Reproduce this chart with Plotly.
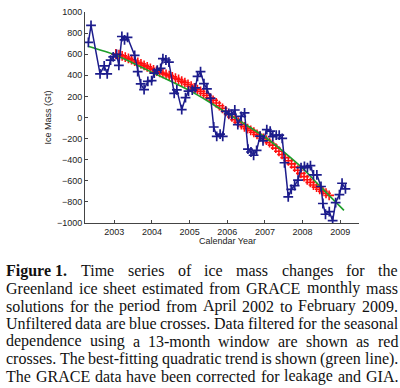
import plotly.graph_objects as go

# ---------------- data ----------------
blue_year = [2002.31, 2002.38, 2002.62, 2002.73, 2002.81, 2002.90, 2002.97, 2003.06, 2003.12,
             2003.20, 2003.27, 2003.35, 2003.54, 2003.62, 2003.70, 2003.79, 2003.89, 2003.99,
             2004.06, 2004.14, 2004.23, 2004.29, 2004.37, 2004.45, 2004.59, 2004.66, 2004.79,
             2004.89, 2004.97, 2005.07, 2005.15, 2005.21, 2005.29, 2005.38, 2005.46, 2005.56,
             2005.64, 2005.72, 2005.81, 2005.88, 2005.96, 2006.04, 2006.12, 2006.20, 2006.28,
             2006.37, 2006.46, 2006.55, 2006.63, 2006.70, 2006.78, 2006.87, 2006.95, 2007.05,
             2007.14, 2007.21, 2007.30, 2007.38, 2007.46, 2007.52, 2007.62, 2007.70, 2007.79,
             2007.88, 2007.96, 2008.05, 2008.13, 2008.21, 2008.29, 2008.38, 2008.49, 2008.54,
             2008.61, 2008.71, 2008.80, 2008.88, 2008.98, 2009.05, 2009.14]
blue_mass = [713, 873, 414, 490, 414, 543, 574, 599, 494,
             768, 735, 759, 589, 435, 318, 265, 343, 349,
             420, 450, 466, 559, 545, 525, 228, 262, 74,
             188, 250, 259, 281, 389, 435, 321, 272, 182,
             -90, -179, -157, -179, 59, 38, 30, 71, -68,
             10, 43, -300, -327, -358, -312, -176, -222, -114,
             -130, -182, -167, -167, -198, -429, -753, -682, -645,
             -593, -475, -463, -475, -457, -543, -543, -654, -815,
             -917, -892, -978, -806, -731, -623, -676]

# 13-month filtered series, monthly from Jan 2003 to Sep 2008
red_start = 2003.04
red_mass = [602, 595, 585, 573, 560, 548, 535, 522, 508, 494, 480, 466,
            452, 440, 428, 418, 408, 397, 385, 372, 360, 345, 330, 313,
            296, 280, 265, 248, 228, 208, 186, 162, 138, 112, 87, 62,
            30, 5, -20, -45, -68, -88, -105, -122, -140, -160, -180, -198,
            -215, -238, -262, -290, -320, -350, -380, -410, -440, -470, -500, -530,
            -560, -590, -615, -640, -660, -680, -700, -718, -738]
red_year = [red_start + i / 12 for i in range(len(red_mass))]

green_year = [2002.3, 2003.0, 2003.5, 2004.0, 2004.5, 2005.0, 2005.5, 2006.0,
              2006.5, 2007.0, 2007.5, 2008.0, 2008.5, 2009.1]
green_mass = [676, 597, 515, 428, 344, 255, 152, 40, -70, -185, -325, -480, -665, -880]

x_ticks = [2003, 2004, 2005, 2006, 2007, 2008, 2009]
y_ticks = [1000, 800, 600, 400, 200, 0, -200, -400, -600, -800, -1000]

caption_lines = [
    "Figure 1. Time series of ice mass changes for the",
    "Greenland ice sheet estimated from GRACE monthly mass",
    "solutions for the period from April 2002 to February 2009.",
    "Unfiltered data are blue crosses. Data filtered for the seasonal",
    "dependence using a 13-month window are shown as red",
    "crosses. The best-fitting quadratic trend is shown (green line).",
    "The GRACE data have been corrected for leakage and GIA.",
]

# ---------------- layout constants ----------------
W, H = 400, 388
L, R, T, B = 85, 41, 7, 165
PW, PH = W - L - R, H - T - B

fig = go.Figure()
fig.add_trace(go.Scatter(x=red_year, y=red_mass, mode="markers",
                         marker=dict(symbol="cross-thin", size=7, color="#ff1010",
                                     line=dict(width=1.6, color="#ff1010")),
                         showlegend=False, hoverinfo="skip"))
fig.add_trace(go.Scatter(x=green_year, y=green_mass, mode="lines",
                         line=dict(color="#1e9e2a", width=1.6, shape="spline", smoothing=0.6),
                         showlegend=False, hoverinfo="skip"))
fig.add_trace(go.Scatter(x=blue_year, y=blue_mass, mode="lines+markers",
                         line=dict(color="#1c1c8c", width=1.5),
                         marker=dict(symbol="cross-thin", size=7, color="#1c1c8c",
                                     line=dict(width=1.7, color="#1c1c8c")),
                         showlegend=False, hoverinfo="skip"))

axis_font = dict(family="Liberation Sans, Arial, sans-serif", size=9, color="#222222")
fig.update_xaxes(range=[2002.22, 2009.5], tickvals=x_ticks, ticktext=[str(v) for v in x_ticks],
                 showgrid=False, zeroline=False, showline=True, linecolor="#444444", linewidth=1,
                 ticks="inside", ticklen=3, tickcolor="#444444", tickfont=axis_font)
fig.update_yaxes(range=[-1000, 1000], tickvals=y_ticks, ticktext=[str(v).replace("-", "\u2212") for v in y_ticks],
                 showgrid=False, zeroline=False, showline=True, linecolor="#444444", linewidth=1,
                 ticks="inside", ticklen=3, tickcolor="#444444", tickfont=axis_font)


def px2paper(px, py):
    return (px - L) / PW, (H - B - py) / PH


annotations = []
xa, ya = px2paper(227, 241)
annotations.append(dict(text="Calendar Year", x=xa, y=ya, xref="paper", yref="paper",
                        showarrow=False, xanchor="center", yanchor="middle", font=axis_font))
xa, ya = px2paper(47, 115)
annotations.append(dict(text="Ice Mass (Gt)", x=xa, y=ya, xref="paper", yref="paper",
                        showarrow=False, xanchor="center", yanchor="middle", textangle=-90,
                        font=axis_font))

# ---- justified caption: Times metrics (Liberation Serif is metric-compatible) ----
TIMES = {' ': 250, '!': 333, '(': 333, ')': 333, '-': 333, '.': 250, 'A': 722, 'C': 667,
         'D': 722, 'E': 611, 'F': 556, 'G': 722, 'I': 333, 'R': 667, 'T': 611, 'U': 722,
         'a': 444, 'b': 500, 'c': 444, 'd': 500, 'e': 444, 'f': 333, 'g': 500, 'h': 500,
         'i': 278, 'k': 500, 'l': 278, 'm': 778, 'n': 500, 'o': 500, 'p': 500, 'q': 500,
         'r': 333, 's': 389, 't': 278, 'u': 500, 'v': 500, 'w': 722, 'y': 500}
for d in "0123456789":
    TIMES[d] = 500
TIMES_BOLD = {'F': 611, 'i': 278, 'g': 500, 'u': 556, 'r': 444, 'e': 444, ' ': 250, '1': 500, '.': 250}

FS = 16
LEFT, RIGHT = 5, 397
line_y0, line_step = 272, 18.0
cap_font = dict(family="Liberation Serif, Times New Roman, serif", size=FS, color="#111111")


def width(word, bold=False):
    table = TIMES_BOLD if bold else TIMES
    return sum(table.get(ch, 500) for ch in word) * FS / 1000.0


for i, line in enumerate(caption_lines):
    words = line.split(" ")
    tokens = []
    if i == 0:
        tokens.append(("Figure 1.", True))
        words = words[2:]
    tokens += [(w, False) for w in words]
    widths = [width(w, b) for w, b in tokens]
    gap = (RIGHT - LEFT - sum(widths)) / (len(tokens) - 1)
    x = LEFT
    py = line_y0 + i * line_step
    for (w, b), wd in zip(tokens, widths):
        xa, ya = px2paper(x, py)
        annotations.append(dict(text=f"<b>{w}</b>" if b else w, x=xa, y=ya,
                                xref="paper", yref="paper", showarrow=False,
                                xanchor="left", yanchor="middle", font=cap_font,
                                borderpad=0))
        x += wd + gap

fig.update_layout(width=W, height=H, margin=dict(l=L, r=R, t=T, b=B),
                  paper_bgcolor="white", plot_bgcolor="white",
                  annotations=annotations)

fig.write_html("out.html", config={"displayModeBar": False},
               post_script="document.body.style.margin='0';document.body.style.overflow='hidden';")
